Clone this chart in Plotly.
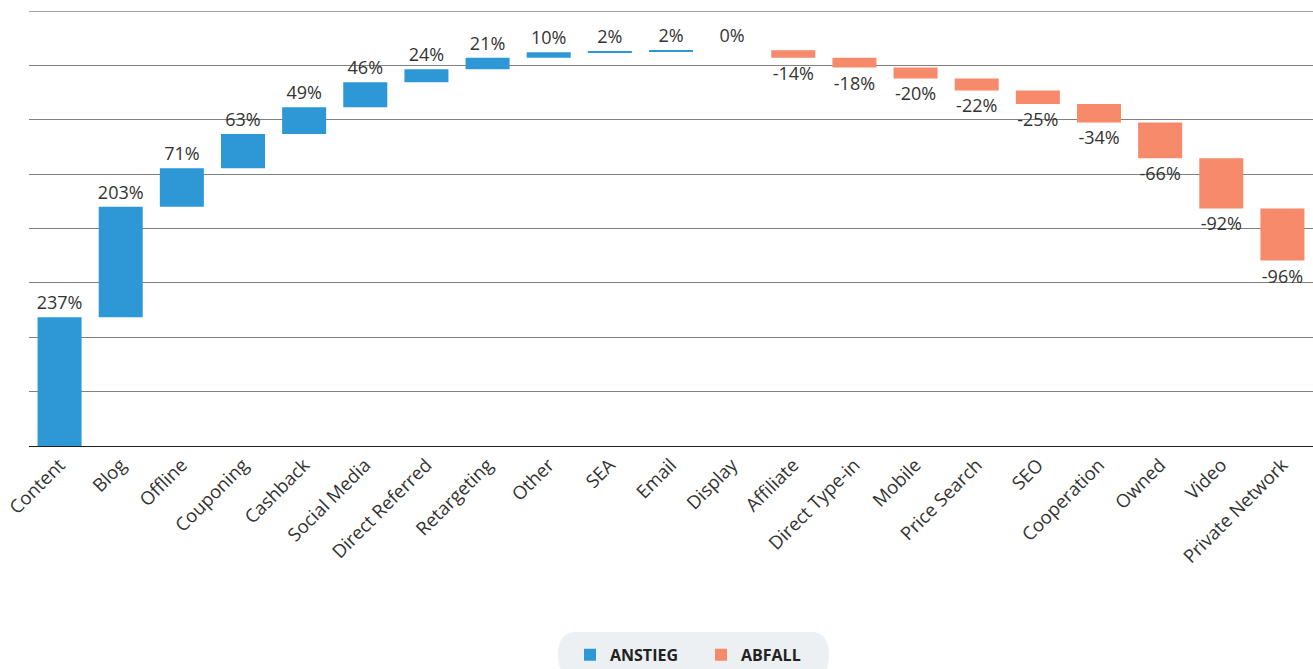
import numpy as np
import plotly.graph_objects as go

# Channel changes (percent), in plotted order
categories = ["Content", "Blog", "Offline", "Couponing", "Cashback", "Social Media",
              "Direct Referred", "Retargeting", "Other", "SEA", "Email", "Display",
              "Affiliate", "Direct Type-in", "Mobile", "Price Search", "SEO",
              "Cooperation", "Owned", "Video", "Private Network"]
changes = [237, 203, 71, 63, 49, 46, 24, 21, 10, 2, 2, 0,
           -14, -18, -20, -22, -25, -34, -66, -92, -96]

BLUE = "#2E97D5"
ORANGE = "#F68A6A"
TXT = "#333333"

vals = np.array(changes, dtype=float)
ends = np.cumsum(vals)
bases = ends - vals

up = vals >= 0
down = ~up

fig = go.Figure()
fig.add_trace(go.Bar(
    name="ANSTIEG",
    x=[c for c, u in zip(categories, up) if u],
    y=vals[up], base=bases[up],
    marker=dict(color=BLUE, line=dict(width=0)),
    text=[f"{int(v)}%" for v in vals[up]],
    textposition="outside", cliponaxis=False, constraintext="none",
    textfont=dict(size=18, color=TXT, family="Open Sans"),
    width=0.72,
))
fig.add_trace(go.Bar(
    name="ABFALL",
    x=[c for c, d in zip(categories, down) if d],
    y=vals[down], base=bases[down],
    marker=dict(color=ORANGE, line=dict(width=0)),
    text=[f"{int(v)}%" for v in vals[down]],
    textposition="outside", cliponaxis=False, constraintext="none",
    textfont=dict(size=18, color=TXT, family="Open Sans"),
    width=0.72,
))

fig.update_layout(
    width=1313, height=669,
    margin=dict(l=29, r=0, t=11, b=223, autoexpand=False),
    paper_bgcolor="white", plot_bgcolor="white",
    font=dict(family="Open Sans", color=TXT, size=18),
    barmode="overlay",
    showlegend=True,
    legend=dict(
        orientation="h", x=541 / 1284, xanchor="left", y=-0.48, yanchor="middle",
        bgcolor="rgba(0,0,0,0)",
        font=dict(size=16, color="#222222", family="Open Sans", weight="bold"),
        itemwidth=30, traceorder="normal",
        entrywidth=86,
    ),
    xaxis=dict(
        categoryorder="array", categoryarray=categories,
        tickangle=-45, tickfont=dict(size=18.5, color=TXT),
        showgrid=False, showline=True, linecolor="#222222", linewidth=1,
        ticks="", range=[-0.5, len(categories) - 0.5],
    ),
    yaxis=dict(
        range=[0, 800], dtick=100, showticklabels=False,
        showgrid=True, gridcolor="#808080", gridwidth=1,
        zeroline=False, showline=False, ticks="",
    ),
    shapes=[
        dict(type="line", xref="paper", yref="y", x0=0, x1=1, y0=800, y1=800,
             line=dict(color="#4a4a4a", width=1)),
        dict(type="path", xref="paper", yref="paper", layer="below",
             path=("M {x0},{y0} L {x1},{y0} Q {x1r},{y0} {x1r},{ym} "
                   "Q {x1r},{y1} {x1},{y1} L {x0},{y1} Q {x0l},{y1} {x0l},{ym} "
                   "Q {x0l},{y0} {x0},{y0} Z").format(
                 x0=(558 - 29 + 18) / 1284, x1=(829 - 29 - 18) / 1284,
                 x0l=(558 - 29) / 1284, x1r=(829 - 29) / 1284,
                 y0=(446 - 632) / 435, y1=(446 - 678) / 435,
                 ym=(446 - 655) / 435),
             fillcolor="#EDF0F3", line=dict(width=0)),
    ],
)

fig.write_html("out.html")
